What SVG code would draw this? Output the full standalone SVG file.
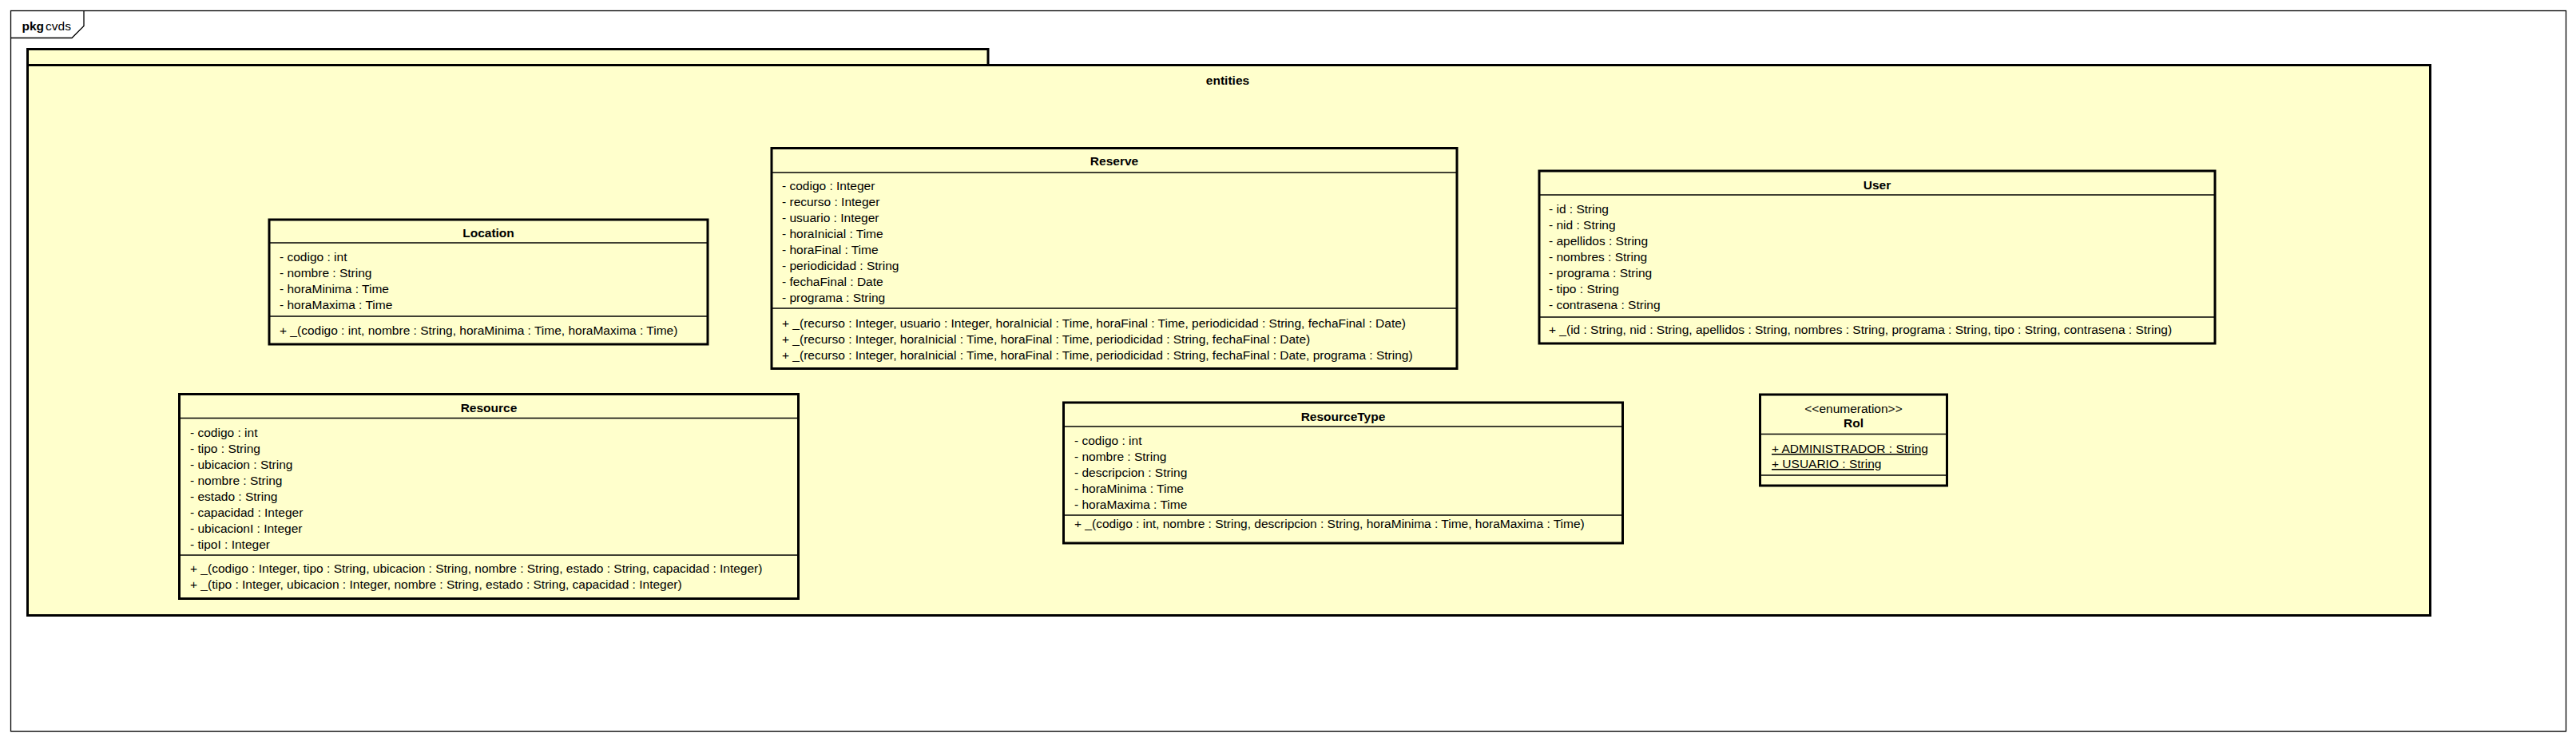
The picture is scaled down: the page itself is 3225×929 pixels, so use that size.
<svg xmlns="http://www.w3.org/2000/svg" width="3225" height="929" viewBox="0 0 3225 929">
<style>
text{font-family:"Liberation Sans",Arial,sans-serif;font-size:15.5px;fill:#000}
.b{font-weight:bold}
.c{text-anchor:middle}
.u{text-decoration:underline}
.box{fill:#FFFFCC;stroke:#000;stroke-width:3}
.sep{stroke:#000;stroke-width:1.3;fill:none}
.frame{fill:#fff;stroke:#000;stroke-width:1.3}
</style>
<rect x="0" y="0" width="3225" height="929" fill="#fff"/>
<g id="frame">
<rect class="frame" x="13.5" y="13.5" width="3199" height="902"/>
<path class="sep" d="M13.5,47.5 H90 L105,32.5 V13.5"/>
<text x="27.5" y="38"><tspan class="b">pkg</tspan><tspan dx="2">cvds</tspan></text>
</g>
<g id="package-entities">
<path class="box" d="M34.5,81.5 V61.5 H1237 V81.5"/>
<rect class="box" x="34.5" y="81.5" width="3008" height="689"/>
<text class="b c" x="1537" y="106">entities</text>
</g>
<g id="Location">
<rect class="box" x="337" y="275" width="549" height="156"/>
<line class="sep" x1="337" y1="304" x2="886" y2="304"/>
<line class="sep" x1="337" y1="396" x2="886" y2="396"/>
<text class="b c" x="611.5" y="297">Location</text>
<text x="350" y="327">- codigo : int</text>
<text x="350" y="347">- nombre : String</text>
<text x="350" y="367">- horaMinima : Time</text>
<text x="350" y="387">- horaMaxima : Time</text>
<text x="350" y="419">+ _(codigo : int, nombre : String, horaMinima : Time, horaMaxima : Time)</text>
</g>
<g id="Reserve">
<rect class="box" x="966" y="185.5" width="858" height="276"/>
<line class="sep" x1="966" y1="216" x2="1824" y2="216"/>
<line class="sep" x1="966" y1="386" x2="1824" y2="386"/>
<text class="b c" x="1395" y="207">Reserve</text>
<text x="979" y="238">- codigo : Integer</text>
<text x="979" y="258">- recurso : Integer</text>
<text x="979" y="278">- usuario : Integer</text>
<text x="979" y="298">- horaInicial : Time</text>
<text x="979" y="318">- horaFinal : Time</text>
<text x="979" y="338">- periodicidad : String</text>
<text x="979" y="358">- fechaFinal : Date</text>
<text x="979" y="378">- programa : String</text>
<text x="979" y="410">+ _(recurso : Integer, usuario : Integer, horaInicial : Time, horaFinal : Time, periodicidad : String, fechaFinal : Date)</text>
<text x="979" y="430">+ _(recurso : Integer, horaInicial : Time, horaFinal : Time, periodicidad : String, fechaFinal : Date)</text>
<text x="979" y="450">+ _(recurso : Integer, horaInicial : Time, horaFinal : Time, periodicidad : String, fechaFinal : Date, programa : String)</text>
</g>
<g id="User">
<rect class="box" x="1927" y="214" width="846" height="216"/>
<line class="sep" x1="1927" y1="244" x2="2773" y2="244"/>
<line class="sep" x1="1927" y1="397" x2="2773" y2="397"/>
<text class="b c" x="2350" y="237">User</text>
<text x="1939" y="267">- id : String</text>
<text x="1939" y="287">- nid : String</text>
<text x="1939" y="307">- apellidos : String</text>
<text x="1939" y="327">- nombres : String</text>
<text x="1939" y="347">- programa : String</text>
<text x="1939" y="367">- tipo : String</text>
<text x="1939" y="387">- contrasena : String</text>
<text x="1939" y="418">+ _(id : String, nid : String, apellidos : String, nombres : String, programa : String, tipo : String, contrasena : String)</text>
</g>
<g id="Resource">
<rect class="box" x="224.5" y="493.5" width="775" height="256"/>
<line class="sep" x1="224.5" y1="523.5" x2="999.5" y2="523.5"/>
<line class="sep" x1="224.5" y1="695" x2="999.5" y2="695"/>
<text class="b c" x="612" y="516">Resource</text>
<text x="238" y="547">- codigo : int</text>
<text x="238" y="567">- tipo : String</text>
<text x="238" y="587">- ubicacion : String</text>
<text x="238" y="607">- nombre : String</text>
<text x="238" y="627">- estado : String</text>
<text x="238" y="647">- capacidad : Integer</text>
<text x="238" y="667">- ubicacionI : Integer</text>
<text x="238" y="687">- tipoI : Integer</text>
<text x="238" y="717">+ _(codigo : Integer, tipo : String, ubicacion : String, nombre : String, estado : String, capacidad : Integer)</text>
<text x="238" y="737">+ _(tipo : Integer, ubicacion : Integer, nombre : String, estado : String, capacidad : Integer)</text>
</g>
<g id="ResourceType">
<rect class="box" x="1331.5" y="504" width="700" height="176"/>
<line class="sep" x1="1331.5" y1="534" x2="2031.5" y2="534"/>
<line class="sep" x1="1331.5" y1="645" x2="2031.5" y2="645"/>
<text class="b c" x="1681.5" y="527">ResourceType</text>
<text x="1345" y="557">- codigo : int</text>
<text x="1345" y="577">- nombre : String</text>
<text x="1345" y="597">- descripcion : String</text>
<text x="1345" y="617">- horaMinima : Time</text>
<text x="1345" y="637">- horaMaxima : Time</text>
<text x="1345" y="661">+ _(codigo : int, nombre : String, descripcion : String, horaMinima : Time, horaMaxima : Time)</text>
</g>
<g id="Rol">
<rect class="box" x="2203.5" y="494" width="234" height="114"/>
<line class="sep" x1="2203.5" y1="543.5" x2="2437.5" y2="543.5"/>
<line class="sep" x1="2203.5" y1="595" x2="2437.5" y2="595"/>
<text class="c" x="2320.5" y="517">&lt;&lt;enumeration&gt;&gt;</text>
<text class="b c" x="2320.5" y="535">Rol</text>
<text class="u" x="2218" y="567">+ ADMINISTRADOR : String</text>
<text class="u" x="2218" y="586">+ USUARIO : String</text>
</g>
<g id="connectors"></g>
</svg>
